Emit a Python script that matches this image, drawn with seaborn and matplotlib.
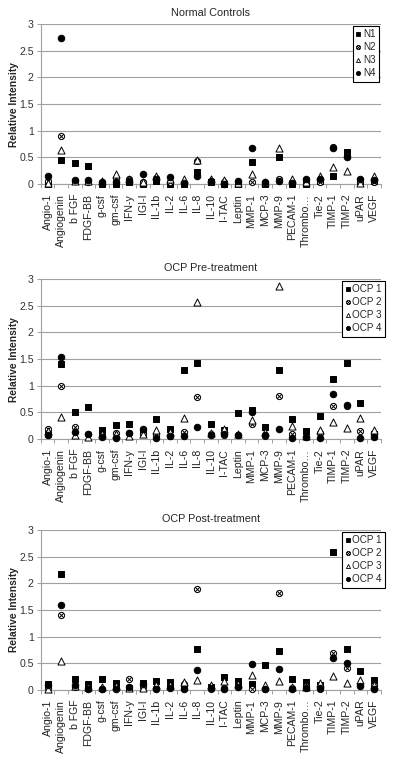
import numpy as np
import pandas as pd
import seaborn as sns
import matplotlib
matplotlib.use("Agg")
from matplotlib import pyplot as plt
from matplotlib.path import Path
from matplotlib.lines import Line2D

categories = ["Angio-1", "Angiogenin", "b FGF", "FDGF-BB", "g-csf", "gm-csf", "IFN-y", "IGI-I",
              "IL-1b", "IL-2", "IL-6", "IL-8", "IL-10", "I-TAC", "Leptin", "MMP-1", "MCP-3",
              "MMP-9", "PECAM-1", "Thrombo\u2026", "Tie-2", "TIMP-1", "TIMP-2", "uPAR", "VEGF"]

# Normal controls
n1 = [0, 0.45, 0.40, 0.34, 0, 0, 0.03, 0, 0.06, 0, 0, 0.23, 0.03, 0, 0, 0.41, 0, 0.51, 0, 0, 0.06, 0.15, 0.60, 0.06, 0.06]
n2 = [0.05, 0.90, 0.06, 0.03, 0.02, 0.12, 0.09, 0.04, 0.12, 0.03, 0.02, 0.43, 0.04, 0.03, 0.03, 0.03, 0.02, 0.10, 0.03, 0.05, 0.03, 0.70, 0.52, 0.03, 0.03]
n3 = [0.02, 0.63, 0.05, 0.05, 0.06, 0.19, 0.10, 0.04, 0.15, 0.09, 0.10, 0.45, 0.10, 0.08, 0.02, 0.19, 0.03, 0.68, 0.10, 0.03, 0.16, 0.32, 0.25, 0.02, 0.15]
n4 = [0.16, 2.73, 0.08, 0.08, 0.04, 0.03, 0.05, 0.19, 0.10, 0.13, 0.02, 0.15, 0.05, 0.00, 0.06, 0.68, 0.04, 0.05, 0.02, 0.10, 0.10, 0.68, 0.50, 0.10, 0.08]

# OCP pre-treatment
pre1 = [0.10, 1.40, 0.51, 0.60, 0.17, 0.27, 0.28, 0.15, 0.37, 0.19, 1.30, 1.42, 0.28, 0.17, 0.49, 0.55, 0.23, 1.30, 0.37, 0.15, 0.44, 1.12, 1.43, 0.68, 0.10]
pre2 = [0.18, 1.00, 0.22, 0.10, 0.08, 0.12, 0.12, 0.10, 0.08, 0.06, 0.13, 0.78, 0.10, 0.08, 0.08, 0.28, 0.05, 0.80, 0.10, 0.04, 0.12, 0.62, 0.62, 0.15, 0.08]
pre3 = [0.15, 0.42, 0.08, 0.04, 0.10, 0.10, 0.05, 0.10, 0.16, 0.14, 0.40, 2.56, 0.12, 0.18, 0.10, 0.35, 0.13, 2.87, 0.24, 0.05, 0.17, 0.32, 0.20, 0.40, 0.17]
pre4 = [0.08, 1.54, 0.14, 0.10, 0.03, 0.01, 0.12, 0.18, 0.02, 0.05, 0.05, 0.22, 0.08, 0.10, 0.07, 0.50, 0.08, 0.18, 0.02, 0.04, 0.02, 0.85, 0.64, 0.02, 0.04]

# OCP post-treatment
post1 = [0.12, 2.17, 0.20, 0.12, 0.20, 0.14, 0.03, 0.14, 0.16, 0.15, 0.05, 0.77, 0.05, 0.25, 0.16, 0.12, 0.46, 0.74, 0.20, 0.15, 0.10, 2.58, 0.77, 0.36, 0.18]
post2 = [0.03, 1.40, 0.05, 0.03, 0.02, 0.04, 0.21, 0.05, 0.04, 0.08, 0.12, 1.90, 0.02, 0.03, 0.08, 0.01, 0.01, 1.81, 0.04, 0.08, 0.01, 0.70, 0.42, 0.10, 0.09]
post3 = [0.02, 0.54, 0.07, 0.05, 0.06, 0.08, 0.04, 0.03, 0.09, 0.10, 0.15, 0.19, 0.09, 0.16, 0.12, 0.28, 0.09, 0.16, 0.06, 0.06, 0.14, 0.27, 0.13, 0.18, 0.10]
post4 = [0.10, 1.60, 0.10, 0.02, 0.01, 0.02, 0.05, 0.12, 0.01, 0.03, 0.01, 0.37, 0.03, 0.02, 0.06, 0.49, 0.01, 0.39, 0.01, 0.03, 0.03, 0.60, 0.51, 0.08, 0.01]

normal_labels = ["N1", "N2", "N3", "N4"]
ocp_labels = ["OCP 1", "OCP 2", "OCP 3", "OCP 4"]
y_ticks = [0, 0.5, 1, 1.5, 2, 2.5, 3]
y_ticklabels = ["0", "0.5", "1", "1.5", "2", "2.5", "3"]

sns.set_style("white")
plt.rcParams['font.family'] = ['Liberation Sans', 'DejaVu Sans']

# circle with an x inside
d = 0.7071
otimes = Path.make_compound_path(
    Path.unit_circle(),
    Path([(-d, -d), (d, d), (-d, d), (d, -d)], [Path.MOVETO, Path.LINETO, Path.MOVETO, Path.LINETO]))

# marker, size, facecolor
styles = [("s", 22, "black"), (otimes, 20, "white"), ("^", 26, "white"), ("o", 22, "black")]

panels = [
    ("Normal Controls", [n1, n2, n3, n4], normal_labels, 0.7588, 1.0),
    ("OCP Pre-treatment", [pre1, pre2, pre3, pre4], ocp_labels, 0.4246, 1.018),
    ("OCP Post-treatment", [post1, post2, post3, post4], ocp_labels, 0.0957, 1.018),
]

fig = plt.figure(figsize=(4.0, 7.63), dpi=100)
grey = "#a0a0a0"

for title, series, labels, bottom, leg_x in panels:
    ax = fig.add_axes([0.102, bottom, 0.85, 0.2097])
    for vals, (mk, sz, fc) in zip(series, styles):
        sns.scatterplot(x=categories, y=vals, ax=ax, marker=mk, s=sz, color="black",
                        facecolor=fc, edgecolor="black", linewidth=0.7, clip_on=False, zorder=3)
    ax.set_xlim(-0.5, len(categories) - 0.5)
    ax.set_ylim(0, 3)
    ax.set_yticks(y_ticks)
    ax.set_yticklabels(y_ticklabels)
    ax.yaxis.grid(True, color=grey, lw=0.8)
    ax.set_axisbelow(True)
    for s in ["top", "right"]:
        ax.spines[s].set_visible(False)
    for s in ["left", "bottom"]:
        ax.spines[s].set_color(grey)
        ax.spines[s].set_linewidth(0.8)
    ax.set_xticks(np.arange(len(categories)))
    ax.set_xticklabels(categories, rotation=90)
    ax.set_xticks(np.arange(len(categories) + 1) - 0.5, minor=True)
    ax.tick_params(axis="x", which="major", length=0, pad=7, labelsize=7.6, labelcolor="#222222")
    ax.tick_params(axis="x", which="minor", length=3, width=0.7, color=grey, direction="out", bottom=True)
    ax.tick_params(axis="y", length=3, width=0.7, color=grey, direction="out", left=True,
                   labelsize=7.6, labelcolor="#333333", pad=2)
    ax.set_xlabel("")
    ax.set_ylabel("Relative Intensity", fontsize=7.4, fontweight="bold", labelpad=0)
    ax.set_title(title, fontsize=7.8, pad=6)

    handles = [Line2D([], [], linestyle="none", marker=mk, markersize=3.0, markerfacecolor=fc,
                      markeredgecolor="black", markeredgewidth=0.6) for mk, sz, fc in styles]
    leg = ax.legend(handles, labels, loc="upper right", bbox_to_anchor=(leg_x, 1.0), fontsize=7.1,
                    frameon=True, fancybox=False, handlelength=0.5, handletextpad=0.2,
                    borderpad=0.35, labelspacing=0.3, borderaxespad=0.2)
    leg.get_frame().set_edgecolor("black")
    leg.get_frame().set_linewidth(0.8)
    leg.get_frame().set_alpha(1)

fig.savefig("out.png", dpi=100)
